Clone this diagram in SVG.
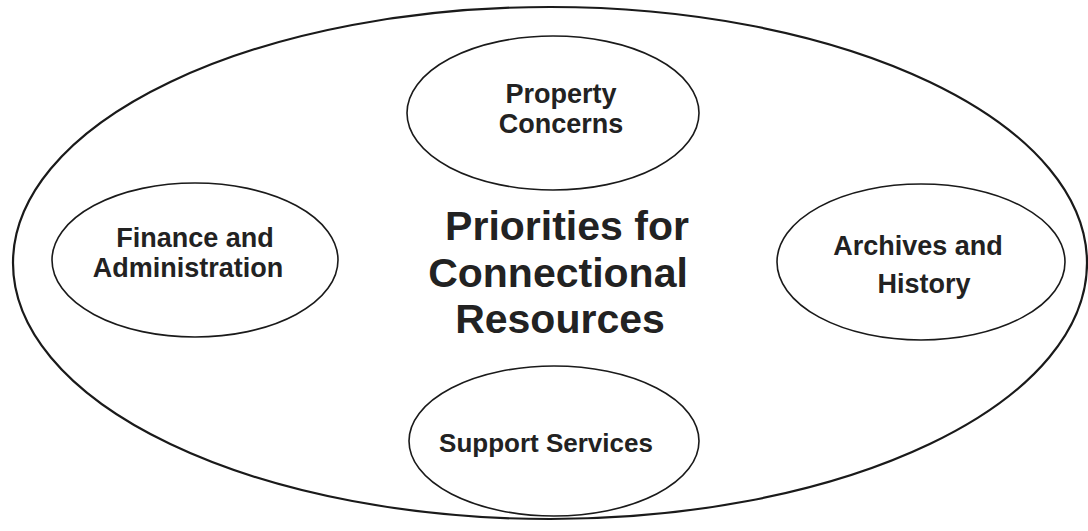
<svg xmlns="http://www.w3.org/2000/svg" width="1088" height="531" viewBox="0 0 1088 531">
<style>
.outer{fill:none;stroke:#1a1a1a;stroke-width:2.2}
.node{fill:none;stroke:#1a1a1a;stroke-width:1.6}
.lbl{font-family:"Liberation Sans",Arial,sans-serif;font-weight:bold;font-size:27px;fill:#222;text-anchor:middle}
.title{font-family:"Liberation Sans",Arial,sans-serif;font-weight:bold;font-size:41px;fill:#222;text-anchor:middle}
</style>
<rect width="1088" height="531" fill="#fff"/>
<g id="outer">
<ellipse class="outer" cx="550" cy="263" rx="537" ry="256"/>
<text class="title" x="567" y="240">Priorities for</text>
<text class="title" x="558" y="287">Connectional</text>
<text class="title" x="560" y="333">Resources</text>
</g>
<g id="property">
<ellipse class="node" cx="553" cy="113" rx="146" ry="77"/>
<text class="lbl" x="561" y="103">Property</text>
<text class="lbl" x="561" y="133">Concerns</text>
</g>
<g id="finance">
<ellipse class="node" cx="195" cy="260" rx="143" ry="77"/>
<text class="lbl" x="195" y="247">Finance and</text>
<text class="lbl" x="188" y="277">Administration</text>
</g>
<g id="archives">
<ellipse class="node" cx="921" cy="262" rx="144" ry="78"/>
<text class="lbl" x="918" y="255">Archives and</text>
<text class="lbl" x="924" y="293">History</text>
</g>
<g id="support">
<ellipse class="node" cx="554" cy="441" rx="145" ry="75"/>
<text class="lbl" x="546" y="452" style="font-size:26px">Support Services</text>
</g>
<g id="connectors"></g>
</svg>
